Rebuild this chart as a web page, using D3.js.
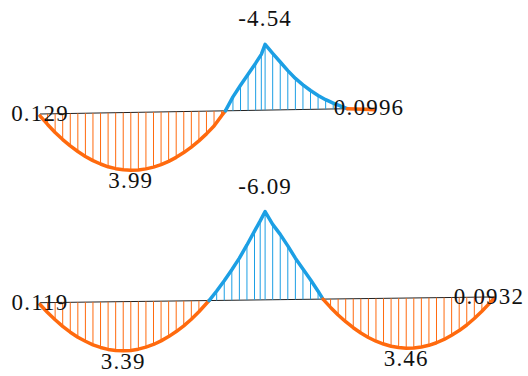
<!DOCTYPE html>
<html>
<head>
<meta charset="utf-8">
<script src="https://cdn.jsdelivr.net/npm/d3@7"></script>
<style>
  body { margin: 0; background: #fff; }
  text { font-family: 'Liberation Serif', 'Times New Roman', 'DejaVu Serif', serif; }
</style>
</head>
<body>
<div id="chart"></div>
<script>
// --- data: stations along the beam (m) and bending moment (kN·m) ---
const beam1Pos = [0, 0.2, 0.4, 0.6, 0.8, 1.0, 1.2, 1.4, 1.6, 1.8, 2.0, 2.2, 2.4, 2.6, 2.8, 3.0, 3.2, 3.4, 3.6, 3.8, 4.0, 4.2, 4.4, 4.6, 4.8, 4.9,
    5.1, 5.3, 5.5, 5.7, 5.85, 5.95, 6.15, 6.35, 6.55, 6.75, 6.95, 7.15, 7.35, 7.55, 7.75, 7.95, 8.12,
    8.35, 8.55, 8.83];
const beam1Moment = [0.129, 0.73, 1.29, 1.79, 2.24, 2.63, 2.98, 3.28, 3.52, 3.72, 3.86, 3.95, 3.99, 3.98, 3.91, 3.80, 3.64, 3.42, 3.15, 2.83, 2.46, 2.04, 1.57, 1.04, 0.33, 0,
    -0.95, -1.75, -2.5, -3.25, -3.85, -4.54, -3.9, -3.3, -2.7, -2.15, -1.7, -1.3, -0.95, -0.65, -0.4, -0.18, 0,
    0.03, 0.06, 0.0996];

const beam2Pos = [0, 0.2, 0.4, 0.6, 0.8, 1.0, 1.2, 1.4, 1.6, 1.8, 2.0, 2.2, 2.4, 2.6, 2.8, 3.0, 3.2, 3.4, 3.6, 3.8, 4.0, 4.2, 4.47,
    4.67, 4.87, 5.07, 5.27, 5.47, 5.67, 5.82, 5.95, 6.15, 6.35, 6.55, 6.75, 6.95, 7.15, 7.35, 7.48,
    7.68, 7.88, 8.08, 8.28, 8.48, 8.68, 8.88, 9.08, 9.28, 9.48, 9.68, 9.88, 10.08, 10.28, 10.48, 10.68, 10.88, 11.08, 11.28, 11.48, 11.68, 11.88, 12];
const beam2Moment = [0.119, 0.68, 1.19, 1.65, 2.06, 2.41, 2.70, 2.95, 3.14, 3.28, 3.36, 3.39, 3.37, 3.29, 3.16, 2.98, 2.74, 2.45, 2.11, 1.72, 1.27, 0.76, 0,
    -0.65, -1.35, -2.1, -2.9, -3.8, -4.75, -5.45, -6.09, -5.2, -4.5, -3.7, -2.85, -2.1, -1.35, -0.55, 0,
    0.58, 1.11, 1.58, 2.00, 2.37, 2.69, 2.95, 3.15, 3.31, 3.41, 3.46, 3.45, 3.39, 3.28, 3.11, 2.89, 2.61, 2.29, 1.91, 1.47, 0.98, 0.44, 0.0932];

// --- look ---
const W = 528, H = 376;
const posColor = '#ff6a0e';
const negColor = '#1c9fe4';
const pxPerUnit = 14.5;

const fmt = d3.formatLocale({ decimal: '.', thousands: ',', grouping: [3], currency: ['', ''], minus: '-' }).format('.3r');

const svg = d3.select('#chart').append('svg')
    .attr('width', W)
    .attr('height', H);

const x = d3.scaleLinear().domain([0, 12]).range([40, 494]);

// split stations into sign segments (zero stations are shared)
function segments(pos, mom) {
    const out = [];
    let cur = [];
    pos.forEach((p, i) => {
        cur.push({ x: p, m: mom[i], i: i });
        if (mom[i] === 0 && cur.length > 1 && i < pos.length - 1) {
            out.push(cur);
            cur = [{ x: p, m: 0, i: i }];
        }
    });
    if (cur.length > 1) out.push(cur);
    return out;
}

function drawDiagram(pos, mom, baseY, tilt) {
    const g = svg.append('g');
    // baseline of the beam (very slightly inclined, like the original)
    const base = d => baseY - tilt * d;
    const y = d3.scaleLinear().domain([0, 1]).range([0, pxPerUnit]);
    const cy = d => base(d.x) + y(d.m);

    const xEnd = pos[pos.length - 1];
    g.append('line')
        .attr('x1', x(0)).attr('y1', base(0))
        .attr('x2', x(xEnd)).attr('y2', base(xEnd))
        .attr('stroke', '#222')
        .attr('stroke-width', 1);

    const segs = segments(pos, mom);
    const line = d3.line().x(d => x(d.x)).y(cy);

    segs.forEach(seg => {
        const ext = seg.reduce((a, b) => Math.abs(b.m) > Math.abs(a.m) ? b : a);
        const col = ext.m >= 0 ? posColor : negColor;

        // hatch
        g.append('g').selectAll('line')
            .data(seg.filter(d => d.m !== 0))
            .join('line')
            .attr('x1', d => x(d.x)).attr('x2', d => x(d.x))
            .attr('y1', d => base(d.x)).attr('y2', cy)
            .attr('stroke', col)
            .attr('stroke-width', 1);

        g.append('path')
            .datum(seg)
            .attr('fill', 'none')
            .attr('stroke', col)
            .attr('stroke-width', 3.5)
            .attr('stroke-linejoin', 'round')
            .attr('stroke-linecap', 'round')
            .attr('d', line);
        seg.ext = ext;
    });

    // labels: both ends + extreme of every segment
    const labels = [];
    const last = pos.length - 1;
    labels.push({ x: pos[0], m: mom[0], kind: 'end', dx: 0 });
    labels.push({ x: pos[last], m: mom[last], kind: 'end', dx: -5 });
    segs.forEach(seg => {
        if (seg.ext.i !== 0 && seg.ext.i !== last) labels.push({ x: seg.ext.x, m: seg.ext.m, kind: 'peak', dx: 0 });
    });

    g.append('g').selectAll('text')
        .data(labels)
        .join('text')
        .attr('x', d => x(d.x) + d.dx)
        .attr('y', d => {
            if (d.kind === 'end') return base(d.x) + 7;
            return d.m > 0 ? cy(d) + 18 : cy(d) - 18;
        })
        .attr('text-anchor', 'middle')
        .attr('font-size', 23)
        .attr('letter-spacing', 1.2)
        .attr('fill', '#111')
        .text(d => fmt(d.m));
}

drawDiagram(beam1Pos, beam1Moment, 114, 0.65);
drawDiagram(beam2Pos, beam2Moment, 302.7, 0.48);
</script>
</body>
</html>
